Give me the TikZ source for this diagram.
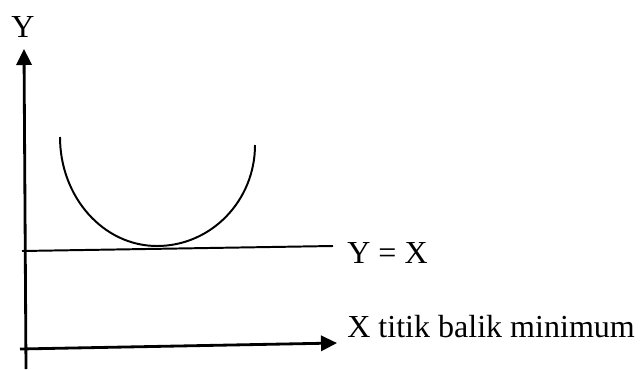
\documentclass[tikz,border=0pt]{standalone}
\usepackage{fontspec}
\setmainfont{Liberation Serif}
\usetikzlibrary{arrows.meta}
\definecolor{plotfg}{HTML}{000000}

\begin{document}
\begin{tikzpicture}[x=1cm,y=1cm,font=\fontsize{22.8}{27}\selectfont]
  \tikzstyle{axis}=[draw=plotfg, line width=2pt, -{Triangle[length=0.4cm,width=0.38cm]}]
  \tikzstyle{line}=[draw=plotfg, line width=1.4pt]
  \tikzstyle{curve}=[draw=plotfg, line width=1.4pt]
  \tikzstyle{label}=[text=plotfg, inner sep=0pt]

  \path[use as bounding box] (0,0) rectangle (16.05,9.225);

  % axes
  \coordinate (ybot) at (0.65,0);
  \coordinate (ytop) at (0.60,8.0);
  \coordinate (xbot) at (0.50,0.50);
  \coordinate (xtop) at (8.425,0.65);
  \draw[axis] (ybot) -- (ytop);
  \draw[axis] (xbot) -- (xtop);

  \node[label, anchor=base] (ylab) at (0.575,8.30) {Y};
  \node[label, anchor=base west] (xlab) at (8.675,0.80) {X titik balik minimum};

  % garis Y = X
  \coordinate (yxa) at (0.55,2.95);
  \coordinate (yxb) at (8.325,3.075);
  \draw[line] (yxa) -- (yxb);
  \node[label, anchor=base west] (yxlab) at (8.675,2.65) {Y = X};

  % kurva
  \coordinate (cleft) at (1.50,5.80);
  \draw[curve] (cleft) arc[start angle=180, end angle=270, x radius=2.425, y radius=2.725]
    coordinate (cmin) arc[start angle=270, end angle=360, x radius=2.45, y radius=2.525] coordinate (cright);
\end{tikzpicture}
\end{document}
